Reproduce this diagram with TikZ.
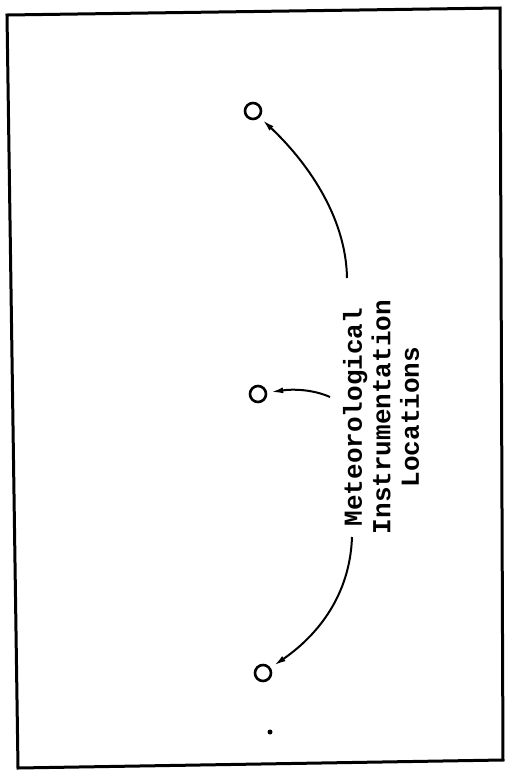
\documentclass[tikz,border=0pt]{standalone}
\usepackage{fontspec}
\setmonofont{Liberation Mono}
\usetikzlibrary{arrows.meta, positioning}

\begin{document}
\begin{tikzpicture}[x=1pt, y=-1pt,
                    site/.style={circle, draw, line width=2.6pt, minimum size=16pt, inner sep=0pt},
                    arrow/.style={-{Latex[length=12pt, width=6pt]}, line width=2pt, shorten >=4pt},
                    label/.style={font=\fontsize{26}{28.5}\selectfont\ttfamily\bfseries, align=center, rotate=90}
                ]
                \useasboundingbox (0,0) rectangle (505,772);
                \draw[line width=3pt] (7,15) -- (500,8) -- (503,760) -- (18,768) -- cycle;

                \node[site] (sitetop) at (253,111) {};
                \node[site] (sitemid) at (258,394) {};
                \node[site] (sitebot) at (263,673) {};
                \fill (270,732) circle (2.5pt);

                \node[label] (locations) at (381,417) {Meteorological\\Instrumentation\\Locations};

                \coordinate (fromtop) at (347,278);
                \coordinate (frommid) at (330,397);
                \coordinate (frombot) at (352,537);

                \draw[arrow] (fromtop) .. controls (346,215) and (305,160) .. (sitetop);
                \draw[arrow] (frommid) .. controls (312,389) and (292,389) .. (sitemid);
                \draw[arrow] (frombot) .. controls (350,595) and (318,635) .. (sitebot);
                \end{tikzpicture}
\end{document}
